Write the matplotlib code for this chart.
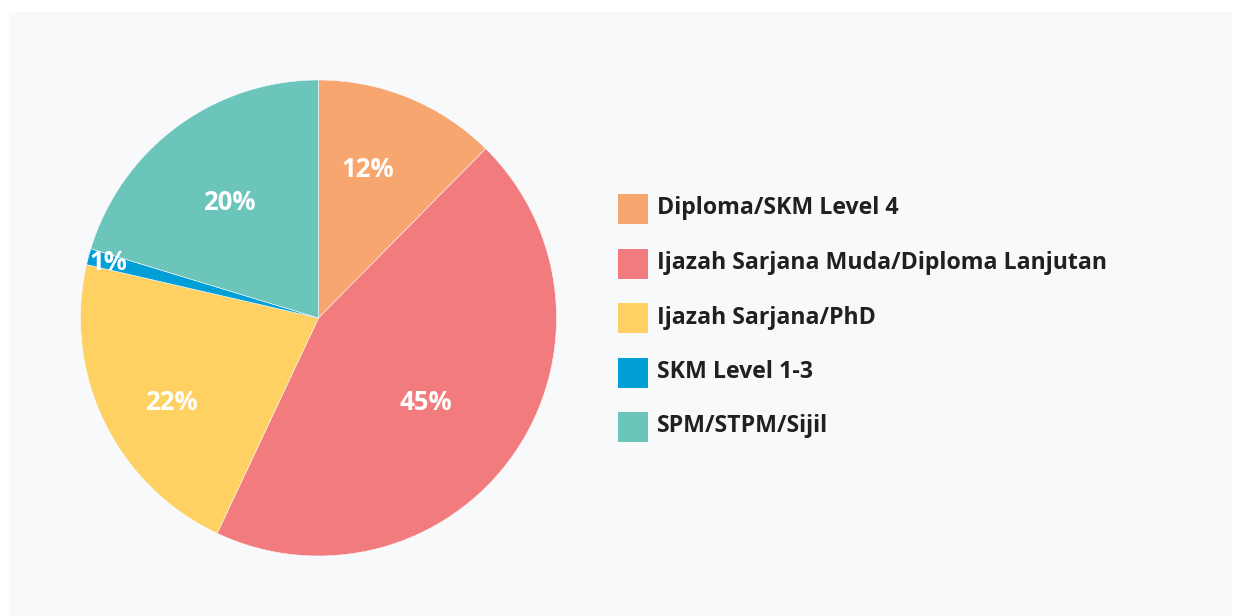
import numpy as np
import matplotlib
matplotlib.use("Agg")
import matplotlib.pyplot as plt
from matplotlib.patches import Rectangle
from matplotlib.transforms import offset_copy

categories = ["Diploma/SKM Level 4",
              "Ijazah Sarjana Muda/Diploma Lanjutan",
              "Ijazah Sarjana/PhD",
              "SKM Level 1-3",
              "SPM/STPM/Sijil"]
values = [12.4, 44.6, 21.6, 1.1, 20.3]
colors = ["#F7A66F", "#F27C7D", "#FED162", "#019FD7", "#6BC5BA"]
# label placement (style): radial fraction and angular tweak in degrees
label_dist = [0.668, 0.568, 0.709, 0.917, 0.622]
label_dang = [4.2, -2.4, 3.15, -0.5, 0.6]

plt.rcParams['font.family'] = ['Open Sans', 'DejaVu Sans']

W, H = 1234, 616
fig = plt.figure(figsize=(W / 100, H / 100), dpi=100)
fig.patch.set_facecolor("white")
fig.add_artist(Rectangle((9 / W, 0), (1232 - 9) / W, (616 - 12) / H,
                         transform=fig.transFigure, facecolor="#F8F9FB",
                         edgecolor="none", zorder=0))

cx, cy, r = 318.5, 318, 238
ax = fig.add_axes([(cx - r) / W, (H - cy - r) / H, 2 * r / W, 2 * r / H])
ax.set_facecolor("none")
wedges, _ = ax.pie(values, colors=colors, startangle=90, counterclock=False,
                   radius=1, wedgeprops=dict(linewidth=0.4, edgecolor="#F8F9FB"))
ax.set_xlim(-1, 1)
ax.set_ylim(-1, 1)
ax.set_aspect("equal")
ax.axis("off")

lab_tr = offset_copy(ax.transData, fig=fig, x=0, y=-3, units="dots")
total = sum(values)
for w, v, d, da in zip(wedges, values, label_dist, label_dang):
    ang = np.deg2rad((w.theta1 + w.theta2) / 2 + da)
    x, y = d * np.cos(ang), d * np.sin(ang)
    ax.text(x, y, f"{round(v / total * 100)}%", ha="center", va="center",
            color="white", fontsize=18.5, fontweight="bold", transform=lab_tr)

# legend
row_y = [209, 263.5, 318, 372.5, 427]
for yy, c, lab in zip(row_y, colors, categories):
    fig.add_artist(Rectangle((618 / W, (H - yy - 15) / H), 30 / W, 30 / H,
                             transform=fig.transFigure, facecolor=c,
                             edgecolor="none"))
    fig.text(657 / W, (H - yy - 5.5) / H, lab, ha="left", va="baseline",
             fontsize=16.7, fontweight="bold", color="#231F20")

fig.savefig("out.png", dpi=100)
